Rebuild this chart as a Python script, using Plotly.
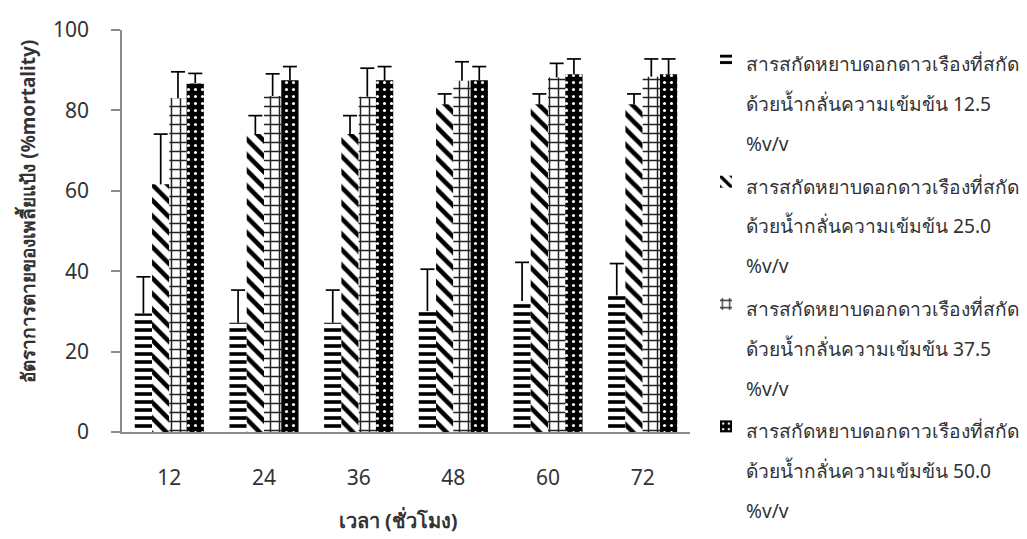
import plotly.graph_objects as go

hours = ["12", "24", "36", "48", "60", "72"]

legend_lines = [
    ["สารสกัดหยาบดอกดาวเรืองที่สกัด", "ด้วยน้ำกลั่นความเข้มข้น 12.5", "%v/v"],
    ["สารสกัดหยาบดอกดาวเรืองที่สกัด", "ด้วยน้ำกลั่นความเข้มข้น 25.0", "%v/v"],
    ["สารสกัดหยาบดอกดาวเรืองที่สกัด", "ด้วยน้ำกลั่นความเข้มข้น 37.5", "%v/v"],
    ["สารสกัดหยาบดอกดาวเรืองที่สกัด", "ด้วยน้ำกลั่นความเข้มข้น 50.0", "%v/v"],
]

mort_12_5 = [29.5, 27.2, 27.2, 30.1, 32.6, 34.0]
mort_25_0 = [61.6, 74.1, 74.1, 81.5, 81.5, 81.5]
mort_37_5 = [83.0, 83.6, 83.4, 87.4, 88.2, 88.4]
mort_50_0 = [86.7, 87.5, 87.5, 87.5, 89.0, 89.0]

err_12_5 = [9.1, 8.1, 8.1, 10.4, 9.6, 7.9]
err_25_0 = [12.5, 4.6, 4.6, 2.6, 2.6, 2.6]
err_37_5 = [6.6, 5.5, 7.1, 4.7, 3.5, 4.4]
err_50_0 = [2.5, 3.4, 3.4, 3.4, 3.8, 3.8]

values = [mort_12_5, mort_25_0, mort_37_5, mort_50_0]
errors = [err_12_5, err_25_0, err_37_5, err_50_0]

patterns = [
    dict(shape="-", fgcolor="black", bgcolor="white", size=8, solidity=0.45, fillmode="replace"),
    dict(shape="\\", fgcolor="black", bgcolor="white", size=11, solidity=0.42, fillmode="replace"),
    dict(shape="+", fgcolor="#222222", bgcolor="white", size=9, solidity=0.3, fillmode="replace"),
    dict(shape=".", fgcolor="white", bgcolor="black", size=7, solidity=0.15, fillmode="replace"),
]

FONT = "Noto Sans, Tahoma, sans-serif"
TXT = "#333333"
LEG_TXT = 19.2


def legend_name(lines):
    return "<br>".join(f"<span style='font-size:{LEG_TXT}px'>{s}</span>" for s in lines)


fig = go.Figure()
for i in range(4):
    fig.add_trace(go.Bar(
        x=hours, y=values[i], name=legend_name(legend_lines[i]),
        marker=dict(color="white", pattern=patterns[i], line=dict(width=0)),
        offsetgroup=str(i),
    ))

# error bars (upward only): stem drawn downward from the top, hat marker at the top
for i in range(4):
    tops = [v + e for v, e in zip(values[i], errors[i])]
    fig.add_trace(go.Scatter(
        x=hours, y=tops, mode="markers", showlegend=False, hoverinfo="skip",
        offsetgroup=str(i),
        marker=dict(symbol="line-ew-open", size=10, color="black", line=dict(width=1.7, color="black")),
        error_y=dict(type="data", symmetric=False, array=[0] * 6, arrayminus=errors[i],
                     width=0, thickness=1.7, color="black"),
    ))

fig.update_layout(
    width=1019, height=531,
    margin=dict(l=114, r=337, t=22, b=107),
    paper_bgcolor="white", plot_bgcolor="white",
    barmode="group", bargap=0.27, bargroupgap=0,
    scattermode="group", scattergap=0.27,
    font=dict(family=FONT, color=TXT),
    showlegend=True,
    legend=dict(
        xref="container", yref="container", x=0.685, y=0.953,
        xanchor="left", yanchor="top",
        font=dict(size=30.6, family=FONT, color=TXT),
        valign="top", tracegroupgap=0, maxheight=528,
        bgcolor="rgba(0,0,0,0)",
    ),
)

fig.update_xaxes(
    type="category", showline=True, linecolor="#8c8c8c", linewidth=1.5,
    ticks="", showgrid=False, tickfont=dict(size=21, family=FONT, color=TXT),
    ticklabelstandoff=26, automargin=False,
    title=dict(text="<b>เวลา (ชั่วโมง)</b>&nbsp;&nbsp;&nbsp;", font=dict(size=20, family=FONT, color=TXT), standoff=24),
)
fig.update_yaxes(
    range=[0, 100], tickvals=[0, 20, 40, 60, 80, 100],
    showline=True, linecolor="#8c8c8c", linewidth=1.5,
    ticks="outside", ticklen=9, tickcolor="#8c8c8c", tickwidth=1.5,
    showgrid=False, zeroline=False, automargin=False,
    tickfont=dict(size=21, family=FONT, color=TXT),
    ticklabelstandoff=18,
    title=dict(text="&nbsp;" * 8 + "<b>อัตราการตายของเพลี้ยแป้ง (%mortality)</b>",
               font=dict(size=19, family=FONT, color=TXT), standoff=12),
)

fig.write_html("out.html")
